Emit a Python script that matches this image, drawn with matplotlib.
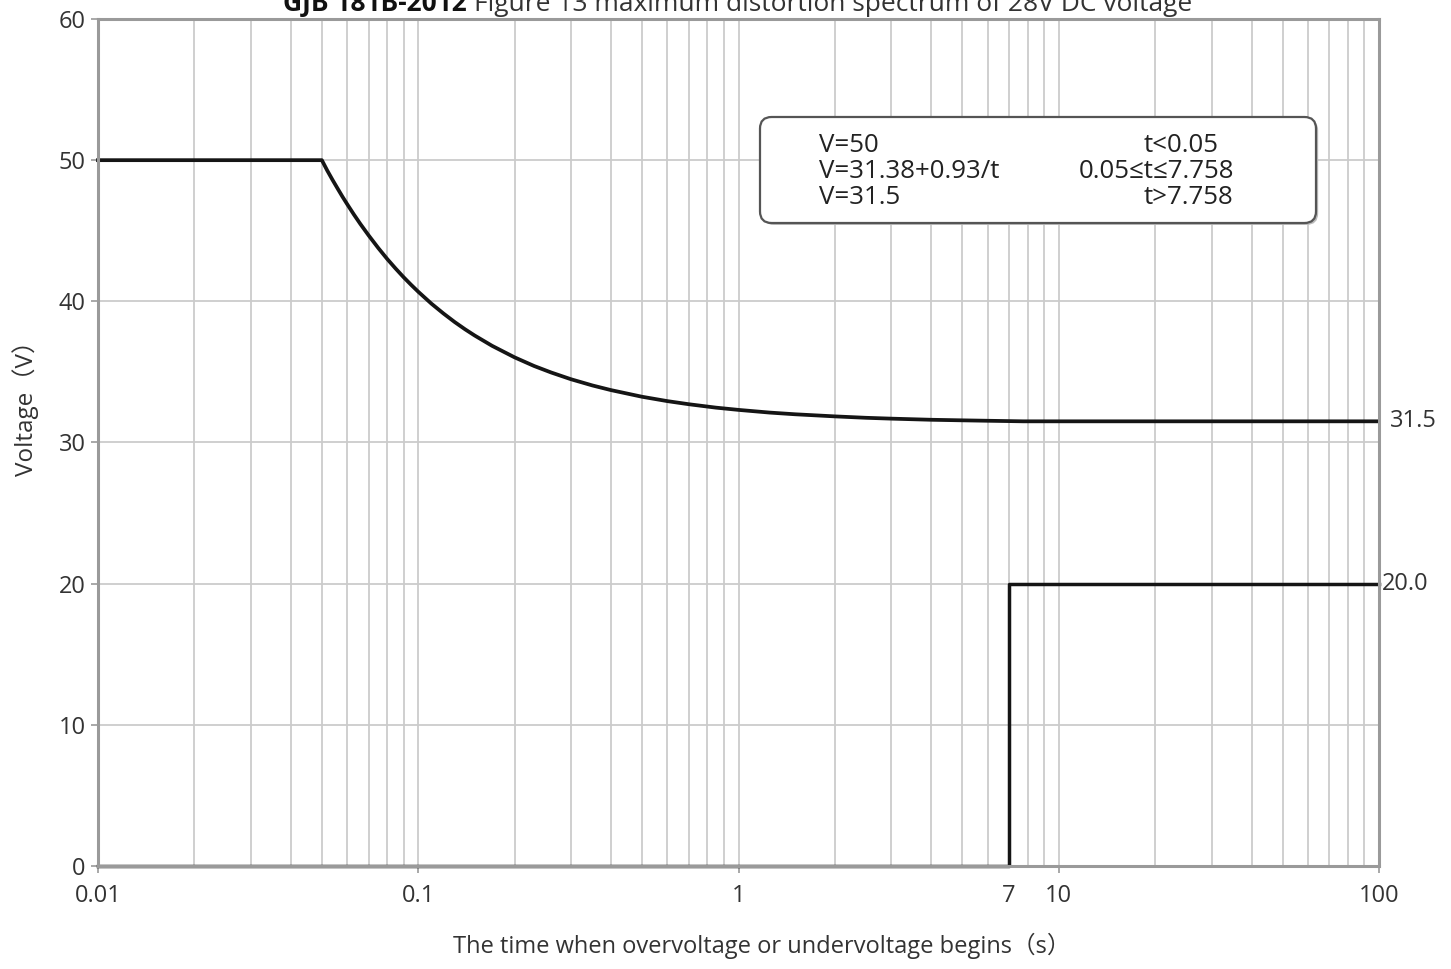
import matplotlib
matplotlib.use("Agg")
import matplotlib.pyplot as plt
from matplotlib.patches import FancyBboxPatch
from matplotlib.ticker import FixedLocator, FixedFormatter, FuncFormatter

plt.rcParams['font.family'] = ['Open Sans', 'Noto Sans CJK SC', 'DejaVu Sans']

# ---- data ----
# upper limit curve (V=50 until t=0.05, decaying to 31.5 at 7.758, flat to 100)
upper_t = [0.01, 0.05, 0.052, 0.054, 0.056, 0.058, 0.06, 0.063, 0.066, 0.07, 0.075, 0.08,
           0.085, 0.09, 0.095, 0.1, 0.11, 0.12, 0.13, 0.14, 0.15, 0.17, 0.2, 0.23, 0.26, 0.3,
           0.35, 0.4, 0.5, 0.6, 0.7, 0.85, 1.0, 1.25, 1.5, 2.0, 2.5, 3.0, 4.0, 5.0, 6.0, 7.758, 100]
upper_v = [50.0, 50.0, 49.26, 48.60, 47.99, 47.41, 46.88, 46.14, 45.47, 44.67, 43.78, 43.0,
           42.32, 41.71, 41.17, 40.68, 39.83, 39.13, 38.53, 38.02, 37.58, 36.85, 36.03, 35.42,
           34.96, 34.48, 34.04, 33.71, 33.24, 32.93, 32.71, 32.47, 32.31, 32.12, 32.0, 31.85,
           31.75, 31.69, 31.61, 31.57, 31.54, 31.5, 31.5]
# lower limit step
lower_t = [0.01, 7.0, 7.0, 100]
lower_v = [0.0, 0.0, 20.0, 20.0]

x_major = [0.01, 0.1, 1, 10, 100]
x_major_labels = ["0.01", "0.1", "1", "10", "100"]
y_ticks = [0, 10, 20, 30, 40, 50, 60]
end_values = [31.5, 20.0]
end_texts = ["31.5", "20.0"]
legend_left = ["V=50", "V=31.38+0.93/t", "V=31.5"]
legend_right = ["t<0.05", "0.05≤t≤7.758", "t>7.758"]

W, H = 1451, 969
fig = plt.figure(figsize=(W / 100, H / 100), dpi=100)
L, R, T, B = 98, 1379, 19, 866
ax = fig.add_axes([L / W, 1 - B / H, (R - L) / W, (B - T) / H])

ax.set_xscale('log')
ax.set_xlim(0.01, 100)
ax.set_ylim(0, 60)

grid_c = '#cbcbcb'
spine_c = '#9a9a9a'
txt_c = '#333333'
FS = 17
ax.xaxis.set_major_locator(FixedLocator(x_major))
ax.xaxis.set_major_formatter(FixedFormatter(x_major_labels))
minors = [m * 10.0 ** e for e in range(-2, 2) for m in range(2, 10)]
ax.xaxis.set_minor_locator(FixedLocator(minors))
ax.xaxis.set_minor_formatter(FuncFormatter(lambda v, p: "7" if abs(v - 7) < 1e-6 else ""))
ax.set_yticks(y_ticks)

ax.grid(True, which='both', axis='x', color=grid_c, lw=1.3)
ax.grid(True, which='major', axis='y', color=grid_c, lw=1.3)
ax.set_axisbelow(True)

for s in ax.spines.values():
    s.set_color(spine_c)
    s.set_linewidth(2.2)

ax.tick_params(axis='x', which='major', length=5, color=spine_c, width=1.2,
               labelsize=FS, labelcolor=txt_c, pad=8)
ax.tick_params(axis='x', which='minor', length=0, labelsize=FS, labelcolor=txt_c, pad=13)
ax.tick_params(axis='y', which='major', length=5, color=spine_c, width=1.2,
               labelsize=FS, labelcolor=txt_c, pad=4)

ax.plot(upper_t, upper_v, color='#151515', lw=2.7, clip_on=False, solid_joinstyle='round')
ax.plot(lower_t, lower_v, color='#151515', lw=2.5, clip_on=False)

end_offsets = [11, 3]
for v, s, off in zip(end_values, end_texts, end_offsets):
    ax.annotate(s, xy=(1, v), xycoords=('axes fraction', 'data'), xytext=(off, 0),
                textcoords='offset pixels', ha='left', va='center', fontsize=FS, color=txt_c)

# legend box
bx0, bx1, by0, by1 = 760, 1316, 117, 223
shadow = FancyBboxPatch((bx0 / W + 0.0015, 1 - by1 / H - 0.002), (bx1 - bx0) / W, (by1 - by0) / H,
                        boxstyle="round,pad=0,rounding_size=0.008", transform=fig.transFigure,
                        facecolor='#bbbbbb', edgecolor='none', zorder=5, mutation_aspect=W / H)
box = FancyBboxPatch((bx0 / W, 1 - by1 / H), (bx1 - bx0) / W, (by1 - by0) / H,
                     boxstyle="round,pad=0,rounding_size=0.008", transform=fig.transFigure,
                     facecolor='white', edgecolor='#555555', lw=1.6, zorder=6, mutation_aspect=W / H)
fig.add_artist(shadow)
fig.add_artist(box)
line_y = [146, 172, 198]
right_x = [1144, 1079, 1144]
for i in range(3):
    fig.text(819 / W, 1 - line_y[i] / H, legend_left[i], ha='left', va='center',
             fontsize=18.6, color='#222222', zorder=7)
    fig.text(right_x[i] / W, 1 - line_y[i] / H, legend_right[i], ha='left', va='center',
             fontsize=18.6, color='#222222', zorder=7)

# title (partially clipped at top in reference)
fig.text(467 / W, 1 - 11 / H, "GJB 181B-2012", ha='right', va='baseline',
         fontsize=19, fontweight='bold', color='#111111')
fig.text(474 / W, 1 - 11 / H, "Figure 13 maximum distortion spectrum of 28V DC voltage",
         ha='left', va='baseline', fontsize=19, color=txt_c)

fig.text(762 / W, 1 - 946 / H, "The time when overvoltage or undervoltage begins（s）",
         ha='center', va='center', fontsize=17, color=txt_c)
fig.text(26 / W, 1 - 402 / H, "Voltage（V）", ha='center', va='center', rotation=90,
         fontsize=17.5, color=txt_c)

fig.savefig("out.png", dpi=100, facecolor='white')
